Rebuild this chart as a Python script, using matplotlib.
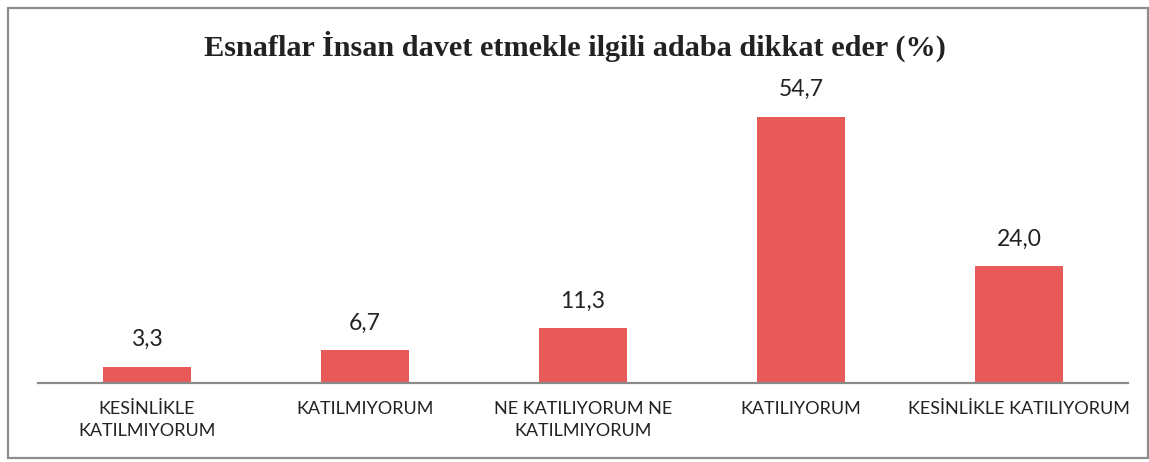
import matplotlib.pyplot as plt
from matplotlib.patches import Rectangle

categories = [
    "KESİNLİKLE\nKATILMIYORUM",
    "KATILMIYORUM",
    "NE KATILIYORUM NE\nKATILMIYORUM",
    "KATILIYORUM",
    "KESİNLİKLE KATILIYORUM",
]
values = [3.3, 6.7, 11.3, 54.7, 24.0]
title = "Esnaflar İnsan davet etmekle ilgili adaba dikkat eder (%)"

bar_color = "#E85A5A"
text_color = "#222222"

fig = plt.figure(figsize=(11.49, 4.62), dpi=100)
fig.patch.set_facecolor("white")

# outer frame around the chart area
fig.add_artist(Rectangle((0.007, 0.008), 0.992, 0.975, transform=fig.transFigure,
                         fill=False, edgecolor="#8c8c8c", linewidth=1.6))

ax = fig.add_axes([0.0331, 0.171, 0.9487, 0.6316])
x = range(len(categories))
bars = ax.bar(x, values, width=0.4, color=bar_color, zorder=2)

ax.set_xlim(-0.5, len(categories) - 0.5)
ax.set_ylim(0, 60)
for side in ("top", "right", "left"):
    ax.spines[side].set_visible(False)
ax.spines["bottom"].set_color("#8a8a8a")
ax.spines["bottom"].set_linewidth(1.6)
ax.set_yticks([])
ax.set_xticks(list(x))
ax.set_xticklabels(categories, fontsize=13, family="Lato", color=text_color,
                   linespacing=1.45)
ax.tick_params(axis="x", length=0, pad=13)

for bar, v in zip(bars, values):
    ax.annotate(f"{v:.1f}".replace(".", ","),
                (bar.get_x() + bar.get_width() / 2, bar.get_height()),
                xytext=(0, 12), textcoords="offset points",
                ha="center", va="bottom", fontsize=16.5, family="Lato",
                color=text_color)

fig.text(0.5, 0.9, title, ha="center", va="center", fontsize=21.8,
         fontweight="bold", family="Liberation Serif", color="#222222")

fig.savefig("out.png", dpi=100, facecolor="white")
